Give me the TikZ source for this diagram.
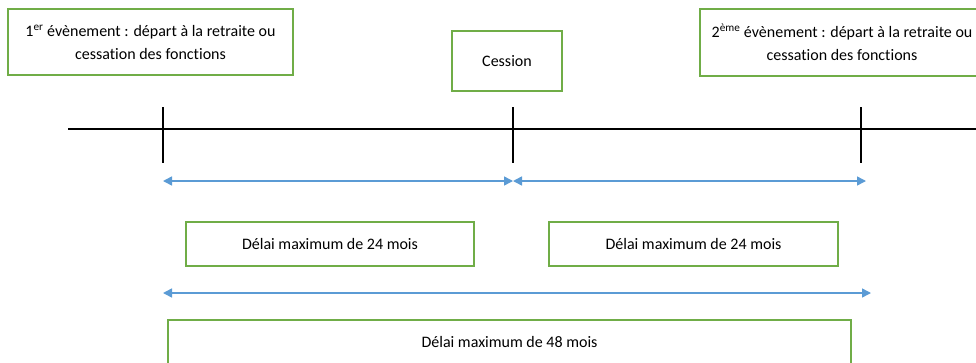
\documentclass[tikz,border=0pt]{standalone}
\usepackage{fontspec}
\setmainfont[Ligatures=NoCommon]{Carlito}
\usetikzlibrary{arrows.meta}
\definecolor{boxgreen}{RGB}{112,173,71}
\definecolor{arrowblue}{RGB}{91,155,213}
\tikzset{
  gbox/.style={draw=boxgreen, line width=1.5pt, fill=white, inner sep=0pt,
    align=center, font=\fontsize{16}{23}\selectfont},
  axis/.style={draw=black, line width=1.4pt},
  span/.style={draw=arrowblue, line width=1.5pt,
    {Triangle[length=9pt,width=9pt]}-{Triangle[length=9pt,width=9pt]}},
}
\begin{document}
\begin{tikzpicture}[x=1pt,y=-1pt]
\useasboundingbox (0,0) rectangle (976,362);
\clip (0,0) rectangle (976,362);
% event boxes
\node[gbox, minimum width=285pt, minimum height=66pt] (ev1) at (150.5,42)
  {1\textsuperscript{er} évènement : départ à la retraite ou\\cessation des fonctions};
\node[gbox, minimum width=284pt, minimum height=67pt] (ev2) at (842,42.5)
  {2\textsuperscript{ème} évènement : départ à la retraite ou\\cessation des fonctions};
\node[gbox, minimum width=110pt, minimum height=60pt] (ces) at (507,61) {Cession};
% time axis and ticks
\coordinate (a0) at (68,129);
\coordinate (a1) at (980,129);
\draw[axis] (a0) -- (a1);
\coordinate (t1top) at (163,107); \coordinate (t1bot) at (163,163);
\coordinate (t2top) at (513,107); \coordinate (t2bot) at (513,163);
\coordinate (t3top) at (861,107); \coordinate (t3bot) at (861,163);
\draw[axis] (t1top) -- (t1bot);
\draw[axis] (t2top) -- (t2bot);
\draw[axis] (t3top) -- (t3bot);
% durations
\coordinate (s1) at (163,181);
\coordinate (s2) at (513,181);
\coordinate (s3) at (866,181);
\draw[span] (s1) -- (s2);
\draw[span] (s2) -- (s3);
\node[gbox, minimum width=288pt, minimum height=44pt] (d1) at (330,244) {Délai maximum de 24 mois};
\node[gbox, minimum width=289pt, minimum height=44pt] (d2) at (693.5,244) {Délai maximum de 24 mois};
\coordinate (l1) at (163,293);
\coordinate (l2) at (871,293);
\draw[span] (l1) -- (l2);
\node[gbox, minimum width=683pt, minimum height=56pt, text depth=0pt] (d3) at (509.5,348)
  {\raisebox{12pt}{Délai maximum de 48 mois}};
\end{tikzpicture}
\end{document}
